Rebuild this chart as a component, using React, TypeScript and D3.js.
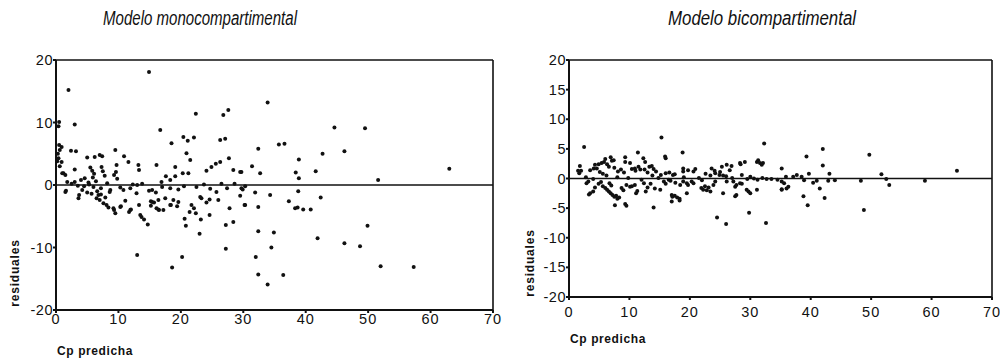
import React from 'react';
import * as d3 from 'd3';

const xTicks = [0, 10, 20, 30, 40, 50, 60, 70];
const monoYTicks = [-20, -10, 0, 10, 20];
const biYTicks = [-20, -15, -10, -5, 0, 5, 10, 15, 20];

const monoTitle = 'Modelo monocompartimental';
const biTitle = 'Modelo bicompartimental';
const yAxisLabel = 'residuales';
const xAxisLabel = 'Cp predicha';

const monoPoints: [number, number][] = [
  [14.9, 18.1], [2.0, 15.2], [0.5, 10.1], [0.4, 9.4], [3.0, 9.7],
  [0.5, 6.4], [0.9, 6.1], [0.6, 5.6], [0.3, 5.0], [0.4, 4.3], [0.9, 3.7], [0.6, 3.0], [0.2, 3.8], [1.2, 1.9], [1.0, 1.9], [1.5, 1.6], [1.8, 0.5],
  [2.4, 5.5], [3.2, 5.4], [3.0, 2.5],
  [5.0, 4.4], [6.2, 4.5], [7.0, 4.8], [7.4, 4.6], [9.5, 5.6], [10.9, 4.6], [11.6, 3.7], [9.7, 3.2], [9.6, 2.1], [9.3, 1.6],
  [13.2, 3.2], [13.3, 2.4], [16.1, 3.2], [16.7, 8.8], [18.5, 6.7], [19.1, 2.9], [20.4, 7.7], [21.1, 7.1], [20.9, 5.1], [21.5, 4.0], [22.1, 7.6], [22.4, 11.4],
  [20.3, 1.9], [21.2, 1.9], [24.1, 2.3], [24.9, 2.9], [25.6, 3.4], [26.3, 3.7], [26.3, 7.2], [27.1, 7.4], [26.8, 11.2], [27.6, 12.0], [27.7, 4.3], [28.4, 2.4], [29.5, 2.1],
  [17.6, 1.4], [19.1, 1.4], [18.3, 0.8], [16.9, 0.5],
  [5.5, 2.8], [5.8, 2.3], [6.1, 1.8], [5.9, 1.2], [7.3, 2.9], [7.5, 2.2], [7.8, 1.5], [4.6, 1.1], [4.0, 0.8], [3.0, 0.5], [2.5, 0.2], [5.2, 0.4], [6.4, 0.6], [8.2, 0.3], [9.8, 1.0],
  [33.9, 13.2], [44.6, 9.2], [49.5, 9.1], [32.4, 5.8], [35.7, 6.5], [36.6, 6.6], [38.9, 4.1], [42.7, 5.0], [46.2, 5.4], [31.4, 3.0], [32.7, 1.9], [38.4, 2.0], [38.9, 1.1], [41.6, 2.2], [51.6, 0.8], [63.0, 2.6], [29.7, 2.1],
  [3.5, -0.1], [4.5, -0.2], [5.3, 0.1], [6.0, -0.3], [7.2, -0.5], [8.7, -0.8], [10.3, -0.4], [10.8, -0.8], [11.9, -0.5], [12.3, 0.1], [13.0, 0.0], [13.8, 0.2], [15.4, -0.8], [17.0, -0.3], [18.3, -0.5], [19.6, -0.7], [20.5, -0.2], [22.5, -0.3], [23.7, 0.1], [24.7, -0.6], [26.5, 0.2], [27.4, -0.5], [29.9, -0.7], [30.3, -0.2], [28.6, 0.2],
  [1.6, -0.9], [3.7, -1.6], [3.6, -2.1], [5.7, -1.4], [6.5, -2.1], [7.0, -2.4], [7.6, -2.9], [8.1, -3.2], [8.4, -3.6], [6.8, -1.6], [8.6, -1.1], [9.3, -4.0], [9.5, -4.5], [10.4, -3.4], [11.1, -2.5], [11.7, -4.3], [12.0, -3.9], [12.9, -1.3], [13.3, -3.2], [13.7, -5.1], [14.1, -5.5], [14.7, -6.3], [14.9, -0.9],
  [15.2, -2.6], [15.7, -2.8], [16.0, -1.2], [16.1, -3.7], [16.5, -4.0], [17.5, -2.1], [18.4, -3.2], [19.6, -2.7], [18.6, -13.2], [13.0, -11.2], [20.2, -11.5], [20.6, -5.4], [20.8, -6.5], [21.4, -4.3], [21.7, -3.2], [22.4, -4.5], [22.1, -3.7], [23.0, -7.8], [23.2, -5.5], [23.1, -1.9], [23.3, -2.1],
  [24.1, -2.8], [24.6, -2.3], [24.6, -4.8], [25.7, -1.1], [26.0, -2.4], [27.2, -6.4], [27.2, -10.2], [27.8, -3.7], [28.4, -5.9], [29.5, -1.7], [30.3, -3.2], [29.7, -0.5],
  [1.5, -1.1], [6.6, -1.0], [7.2, -1.5], [7.9, -2.0], [10.3, -3.5], [11.9, -4.0], [13.5, -4.8], [15.4, -2.7], [16.4, -2.4], [15.2, -3.3], [16.4, -3.9], [17.2, -4.0], [18.3, -3.2], [18.8, -2.4], [19.4, -3.4], [9.2, -3.7], [4.2, -0.8], [5.0, -1.2],
  [31.9, -1.2], [34.3, -1.6], [38.8, -1.0], [42.4, -2.0], [30.2, -3.2], [32.4, -3.5], [37.3, -2.6], [38.3, -3.7], [38.7, -3.6], [39.6, -3.9], [40.8, -3.9], [32.4, -7.4], [34.9, -7.6], [41.9, -8.5], [49.9, -6.5], [46.2, -9.3], [48.7, -9.8],
  [34.5, -10.0], [32.0, -11.5], [32.4, -14.3], [36.4, -14.4], [33.9, -15.9], [52.0, -13.0], [57.3, -13.1],
];

const biPoints: [number, number][] = [
  [2.5, 5.3], [15.3, 6.9], [11.4, 4.4], [18.8, 4.4], [16.0, 3.4], [1.8, 2.1], [1.5, 1.3], [2.0, 1.3], [1.7, 0.9], [3.5, 1.4], [4.1, 1.7], [4.9, 2.4], [5.4, 2.6], [5.8, 2.8],
  [6.9, 3.6], [7.1, 3.0], [9.3, 3.6], [9.3, 2.8], [10.1, 2.6], [12.3, 3.4], [12.6, 2.8], [13.7, 2.1],
  [7.5, 1.8], [8.1, 1.2], [8.6, 1.5], [9.1, 1.0], [10.4, 1.6], [11.0, 1.3], [11.8, 1.5], [13.0, 1.0], [13.8, 0.5], [14.4, 1.2], [16.6, 1.0], [17.2, 0.6], [18.9, 1.7], [19.7, 1.4], [20.6, 1.2],
  [23.6, 1.7], [24.1, 1.3], [25.3, 2.0], [26.1, 2.3], [26.9, 2.1], [26.6, 1.4], [28.3, 2.6], [29.1, 2.8], [31.1, 2.8], [22.6, 0.8], [23.4, 0.5], [25.5, 0.5], [26.0, 0.4],
  [4.6, 1.7], [4.3, 2.3], [6.0, 3.3], [6.3, 2.4], [6.6, 2.0], [7.4, 3.1], [5.1, 1.1], [5.6, 0.8], [6.2, 0.5], [10.9, 1.7], [11.5, 2.0], [12.5, 1.5], [13.3, 2.0], [14.0, 1.6], [15.9, 3.7],
  [15.2, 0.6], [16.0, 0.9], [17.5, 0.7], [18.9, 1.2], [20.9, 1.6], [24.2, 0.9], [24.9, 0.6], [25.0, 1.1], [28.6, 0.6], [30.0, 0.3],
  [32.3, 5.9], [42.0, 5.0], [39.3, 3.7], [49.7, 4.0], [42.0, 2.2], [31.3, 3.1], [32.1, 2.6], [28.4, 2.4], [35.2, 1.7], [64.2, 1.3], [51.7, 0.7], [39.7, 0.8], [43.1, 0.8], [37.7, 0.6], [38.5, 0.3], [35.9, 0.3], [31.6, 2.6], [31.9, 2.3], [37.1, 0.3],
  [29.5, -0.1], [30.6, 0.0], [31.2, -0.2], [32.0, 0.1], [32.7, -0.1], [33.5, -0.1], [34.5, -0.2], [38.9, -0.3], [41.0, -0.4], [42.9, -0.4], [44.0, -0.3], [48.3, -0.4], [52.5, -0.1], [58.9, -0.4],
  [2.8, 0.2], [4.0, -0.1], [8.0, 0.2], [9.8, 0.1], [12.0, -0.2], [14.8, 0.1], [16.5, -0.2], [19.0, 0.2], [21.5, 0.1], [22.0, -0.3], [27.0, 0.1],
  [28.6, -0.9], [29.4, -1.9], [29.7, -2.2], [31.1, -1.9], [35.2, -1.8], [35.6, -0.8], [36.3, -1.4], [38.8, -3.0], [40.4, -0.7], [41.5, -1.7], [42.3, -3.3], [53.0, -1.1], [39.5, -4.5], [29.8, -5.8], [32.6, -7.5], [48.8, -5.3],
  [24.5, -6.6], [26.0, -7.7], [7.6, -4.5], [9.3, -4.3], [9.5, -4.6], [14.0, -4.9], [17.1, -3.1], [17.5, -2.9], [17.0, -3.9], [18.3, -3.7], [3.3, -2.7], [4.0, -2.2], [11.1, -2.5], [12.7, -2.2], [9.5, -1.1], [10.1, -1.4],
  [15.1, -1.9], [19.5, -2.5], [22.2, -1.9], [22.8, -2.0], [23.4, -2.2], [25.5, -2.5], [27.7, -2.8], [30.0, -2.5],
  [2.9, -0.8], [3.2, -0.5], [3.5, -2.5], [4.3, -1.5], [4.9, -0.9], [5.3, -0.6], [5.6, -1.3], [6.0, -1.6], [6.3, -1.9], [6.6, -2.2], [6.9, -2.5], [7.2, -2.8], [7.5, -3.1], [7.8, -2.9], [8.0, -3.4], [8.3, -3.2],
  [7.0, -1.2], [6.7, -0.8], [8.7, -1.6], [9.0, -2.0], [10.4, -1.3], [10.9, -1.1], [11.3, -2.1], [12.4, -0.8], [13.0, -1.5], [13.5, -0.9], [14.2, -1.7], [15.7, -0.5], [16.0, -0.9], [16.8, -0.4], [17.6, -0.7], [18.4, -1.1],
  [17.0, -2.8], [17.9, -3.2], [18.3, -3.4],
  [18.9, -0.5], [19.5, -0.8], [19.7, -1.1], [20.3, -0.5], [20.6, -0.8], [21.9, -1.6], [22.5, -1.3], [23.1, -1.5], [23.9, -1.1], [24.2, -0.5], [26.1, -0.5], [27.2, -0.5], [27.5, -1.4], [27.7, -1.1], [28.3, -0.8], [27.5, -3.0],
  [35.2, -0.5], [36.0, -1.7], [35.2, -1.9],
];

type PanelProps = {
  x0: number; x1: number; y0: number; y1: number;
  points: [number, number][];
  yTicks: number[];
  title: string; titleX: number; titleLen: number;
  xLabelY: number; yLabelX: number; yLabelY: number; xTickGap: number;
};

const FONT = 'Arial, "Liberation Sans", Helvetica, sans-serif';

function Panel(p: PanelProps) {
  const x = d3.scaleLinear().domain([0, 70]).range([p.x0, p.x1]);
  const y = d3.scaleLinear().domain([-20, 20]).range([p.y1, p.y0]);
  return (
    <g>
      <text x={p.titleX} y={25} textAnchor="middle" fontFamily={FONT} fontStyle="italic" fontSize={20}
        textLength={p.titleLen} lengthAdjust="spacingAndGlyphs" fill="#111">{p.title}</text>
      <line x1={p.x0} x2={p.x1} y1={p.y0} y2={p.y0} stroke="#111" strokeWidth={1.6} />
      <line x1={p.x1} x2={p.x1} y1={p.y0} y2={p.y1} stroke="#111" strokeWidth={1.6} />
      <line x1={p.x0} x2={p.x1} y1={p.y1} y2={p.y1} stroke="#111" strokeWidth={2} />
      <line x1={p.x0} x2={p.x0} y1={p.y0} y2={p.y1} stroke="#111" strokeWidth={2} />
      <line x1={p.x0} x2={p.x1} y1={y(0)} y2={y(0)} stroke="#111" strokeWidth={1.3} />
      {p.yTicks.map((t) => (
        <g key={'y' + t}>
          <line x1={p.x0 - 3} x2={p.x0} y1={y(t)} y2={y(t)} stroke="#111" strokeWidth={2} />
          <text x={p.x0 - 3} y={y(t) + 5} textAnchor="end" fontFamily={FONT} fontSize={14.5} letterSpacing={0.5} fill="#111">{t}</text>
        </g>
      ))}
      {xTicks.map((t) => (
        <g key={'x' + t}>
          <line x1={x(t)} x2={x(t)} y1={p.y1} y2={p.y1 + 3} stroke="#111" strokeWidth={2} />
          <text x={x(t)} y={p.y1 + p.xTickGap} textAnchor="middle" fontFamily={FONT} fontSize={14.5} letterSpacing={1} fill="#111">{t}</text>
        </g>
      ))}
      {p.points.map((d, i) => (
        <circle key={i} cx={x(d[0])} cy={y(d[1])} r={2} fill="#111" />
      ))}
      <text transform={`translate(${p.yLabelX},${p.yLabelY}) rotate(-90)`} textAnchor="middle" fontFamily={FONT}
        fontWeight="bold" fontSize={12} letterSpacing={0.8} fill="#111">{yAxisLabel}</text>
      <text x={p.x0 + 1} y={p.xLabelY} fontFamily={FONT} fontWeight="bold" fontSize={12} letterSpacing={0.6} fill="#111">{xAxisLabel}</text>
    </g>
  );
}

export default function App() {
  return (
    <svg width={1000} height={358} style={{ position: 'absolute', left: 0, top: 0, background: '#fff' }}>
      <rect width={1000} height={358} fill="#fff" />
      <Panel x0={56} x1={493} y0={60} y1={310} points={monoPoints} yTicks={monoYTicks}
        title={monoTitle} titleX={200} titleLen={194} xLabelY={355} yLabelX={19} yLabelY={273} xTickGap={14} />
      <Panel x0={569} x1={992} y0={60} y1={297} points={biPoints} yTicks={biYTicks}
        title={biTitle} titleX={762} titleLen={188} xLabelY={343} yLabelX={534} yLabelY={263} xTickGap={20} />
    </svg>
  );
}
